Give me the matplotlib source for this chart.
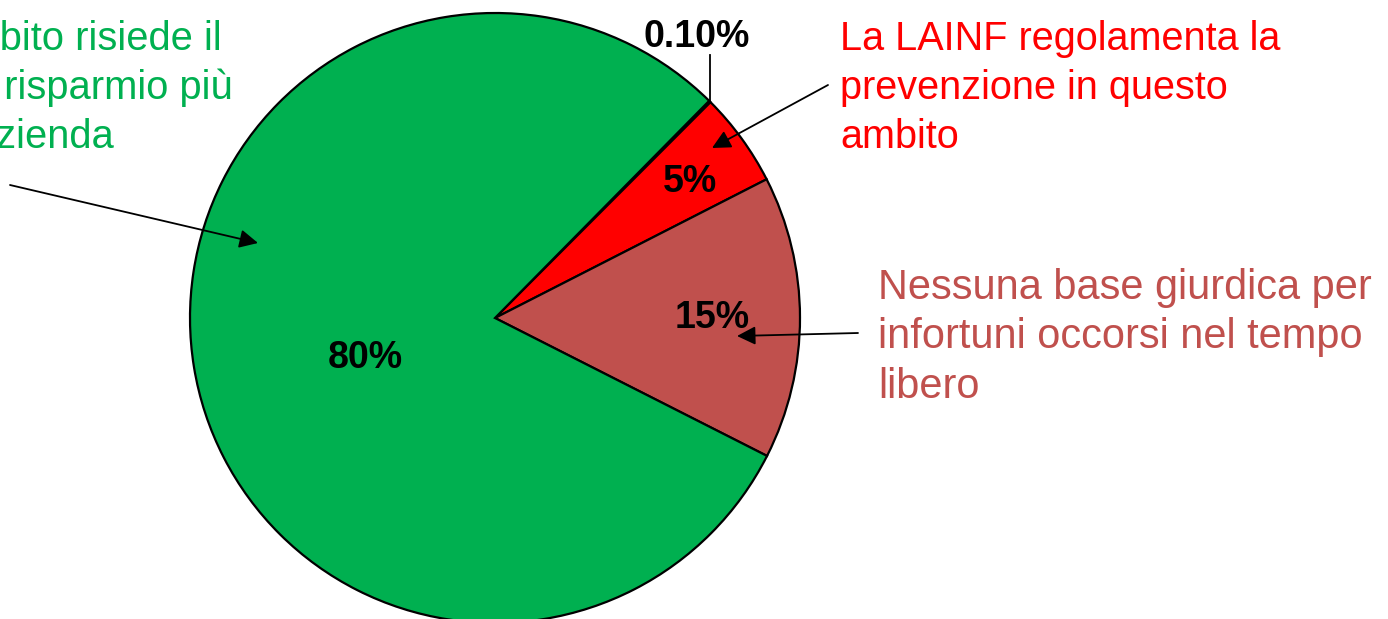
import matplotlib
matplotlib.use("Agg")
import matplotlib.pyplot as plt

W, H = 1388, 619

# slice data (clockwise from the top-right)
values = [0.1, 5, 15, 80]
pct_labels = ["0.10%", "5%", "15%", "80%"]
colors = ["#000000", "#FF0000", "#C0504D", "#00B050"]

notes = [
    "In questo ambito risiede il\npotenziale di risparmio più\ngrande dell'azienda",
    "La LAINF regolamenta la\nprevenzione in questo\nambito",
    "Nessuna base giurdica per\ninfortuni occorsi nel tempo\nlibero",
]
note_colors = ["#00B050", "#FF0000", "#C0504D"]

plt.rcParams["font.family"] = ["Liberation Sans", "DejaVu Sans"]

fig = plt.figure(figsize=(W / 100, H / 100), dpi=100)
fig.patch.set_facecolor("white")

# pie: centre (495, 318) px, radius 305 px
cx, cy, r = 495, 318, 305
ax = fig.add_axes([(cx - r) / W, (H - cy - r) / H, 2 * r / W, 2 * r / H])
ax.pie(values, colors=colors, startangle=45.4, counterclock=False,
       wedgeprops=dict(edgecolor="black", linewidth=1.6))
ax.set_xlim(-1, 1)
ax.set_ylim(-1, 1)
ax.set_aspect("equal")
ax.axis("off")


def d(px, py):
    return ((px - cx) / r, (cy - py) / r)


# percent labels
label_pos = [(697, 37), (690, 182), (712, 318), (365, 358)]
for lab, (px, py) in zip(pct_labels, label_pos):
    ax.text(*d(px, py), lab, ha="center", va="center", fontsize=27,
            fontweight="bold", color="black", clip_on=False)

# leader line for the tiny slice
ax.plot(*zip(d(710, 101), d(710, 55)), color="black", lw=1.3, clip_on=False)

# arrows
arrows = [((10, 185), (258, 243)), ((828, 85), (712, 148)), ((858, 333), (737, 336))]
for start, tip in arrows:
    ax.annotate("", xy=d(*tip), xytext=d(*start), xycoords="data",
                arrowprops=dict(arrowstyle="-|>", color="black", lw=1.3,
                                mutation_scale=28, shrinkA=0, shrinkB=0),
                annotation_clip=False)

# explanatory notes (y = baseline of the last line)
note_pos = [(-231, 148), (840, 148), (878, 398)]
note_size = [28.7, 28.5, 29.9]
note_ls = [1.36, 1.37, 1.31]
for txt, col, (px, py), fs, ls in zip(notes, note_colors, note_pos, note_size, note_ls):
    fig.text(px / W, 1 - py / H, txt, color=col, fontsize=fs,
             ha="left", va="baseline", linespacing=ls)

fig.savefig("out.png", dpi=100)
